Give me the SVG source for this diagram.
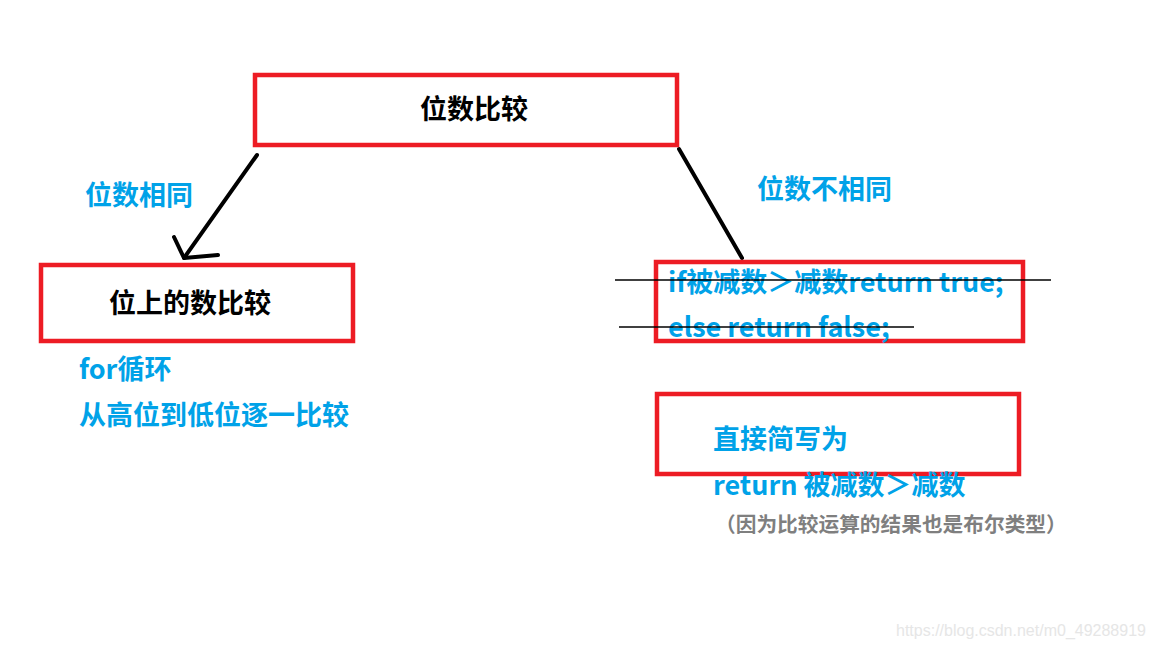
<svg xmlns="http://www.w3.org/2000/svg" width="1152" height="648" viewBox="0 0 1152 648">
<style>
.box{fill:none;stroke:#ed1c24;stroke-width:4.5}
.t{font-family:"Noto Sans CJK SC","Noto Sans",sans-serif;font-weight:bold}
.k{fill:#000;font-size:27px}
.b{fill:#00a2e8;font-size:27px}
.g{fill:#7f7f7f;font-size:20.7px}
.ln{stroke:#000;stroke-width:4;fill:none;stroke-linecap:round;stroke-linejoin:round}
.thin{stroke:#000;stroke-width:1.3}
</style>
<rect width="1152" height="648" fill="#fff"/>
<g id="connectors">
<path class="ln" d="M257,155 L184,258"/>
<path class="ln" d="M174,237 L184,258 L218,255"/>
<path class="ln" d="M679,149 L742,258"/>
</g>
<g id="top">
<rect class="box" x="255" y="75" width="422" height="70"/>
<text class="t k" x="474" y="119" text-anchor="middle">位数比较</text>
</g>
<g id="left">
<rect class="box" x="41" y="265" width="312" height="76"/>
<text class="t k" x="109" y="313">位上的数比较</text>
</g>
<g id="label-same">
<text class="t b" x="85" y="205">位数相同</text>
</g>
<g id="label-diff">
<text class="t b" x="757" y="199">位数不相同</text>
</g>
<g id="left-notes">
<text class="t b" x="79" y="379">for循环</text>
<text class="t b" x="79" y="425">从高位到低位逐一比较</text>
</g>
<g id="right1">
<rect class="box" x="656" y="262" width="367" height="79"/>
<text class="t b" x="668" y="292">if被减数＞减数return true;</text>
<text class="t b" x="668" y="337">else return false;</text>
<line class="thin" x1="615" y1="280" x2="1051" y2="280"/>
<line class="thin" x1="619" y1="327" x2="914" y2="327"/>
</g>
<g id="right2">
<rect class="box" x="657" y="394" width="362" height="80"/>
<text class="t b" x="713" y="449">直接简写为</text>
<text class="t b" x="713" y="495">return 被减数＞减数</text>
<text class="t g" x="715" y="532">（因为比较运算的结果也是布尔类型）</text>
</g>
<text x="896" y="636" font-family="Liberation Sans,Arial,sans-serif" font-size="16" fill="#e6e6e6">https://blog.csdn.net/m0_49288919</text>
</svg>
